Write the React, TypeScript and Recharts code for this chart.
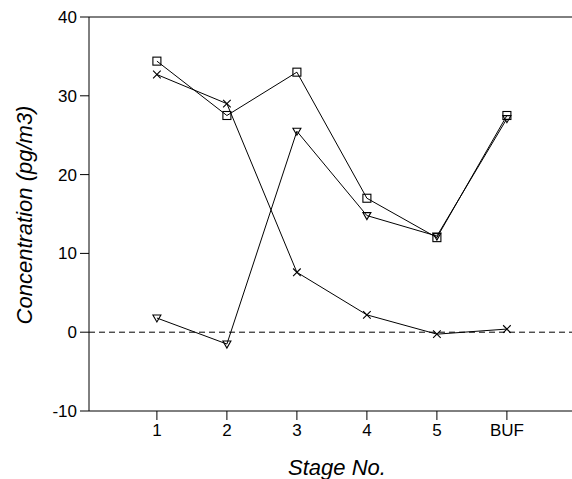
import { LineChart, Line, XAxis, YAxis, ReferenceLine } from "recharts";

const stages = ["1", "2", "3", "4", "5", "BUF"];
const squareSeries = [34.4, 27.5, 33.0, 17.0, 12.0, 27.5];
const crossSeries = [32.7, 29.0, 7.6, 2.2, -0.25, 0.4];
const triangleSeries = [1.8, -1.5, 25.5, 14.8, 12.2, 27.1];
const yTicks = [-10, 0, 10, 20, 30, 40];

const data = stages.map((s, i) => ({
  x: i + 1,
  stage: s,
  square: squareSeries[i],
  cross: crossSeries[i],
  triangle: triangleSeries[i],
}));

const font = "'Liberation Sans', Arial, Helvetica, sans-serif";

const SquareDot = (props: any) => {
  const { cx, cy, index } = props;
  if (cx == null || cy == null) return <g key={`s${index}`} />;
  return (
    <rect key={`s${index}`} x={cx - 4} y={cy - 4} width={8} height={8} fill="none" stroke="#000" strokeWidth={1.1} />
  );
};

const CrossDot = (props: any) => {
  const { cx, cy, index } = props;
  if (cx == null || cy == null) return <g key={`c${index}`} />;
  const r = 3.8;
  return (
    <path
      key={`c${index}`}
      d={`M${cx - r},${cy - r}L${cx + r},${cy + r}M${cx - r},${cy + r}L${cx + r},${cy - r}`}
      stroke="#000"
      strokeWidth={1.1}
      fill="none"
    />
  );
};

const TriangleDot = (props: any) => {
  const { cx, cy, index } = props;
  if (cx == null || cy == null) return <g key={`t${index}`} />;
  return (
    <path
      key={`t${index}`}
      d={`M${cx - 4},${cy - 3}L${cx + 4},${cy - 3}L${cx},${cy + 4}Z`}
      stroke="#000"
      strokeWidth={1.1}
      fill="none"
    />
  );
};

export default function App() {
  return (
    <div style={{ position: "absolute", left: 0, top: 0, width: 572, height: 479, overflow: "hidden", background: "#fff" }}>
      <LineChart width={580} height={479} data={data} margin={{ top: 17, right: 1, left: 0, bottom: 0 }}>
        <XAxis
          dataKey="x"
          type="number"
          domain={[0.03, 7.03]}
          ticks={[1, 2, 3, 4, 5, 6]}
          tickFormatter={(v: number) => stages[v - 1] ?? ""}
          height={68}
          tickSize={9}
          tickMargin={4}
          stroke="#000"
          tick={{ fill: "#000", fontSize: 17, fontFamily: font }}
          label={{
            content: () => (
              <text x={337} y={475} textAnchor="middle" fontSize={22} fontStyle="italic" fontFamily={font} fill="#000">
                Stage No.
              </text>
            ),
          }}
        />
        <YAxis
          type="number"
          domain={[-10, 40]}
          ticks={yTicks}
          width={89}
          tickSize={9}
          tickMargin={3}
          stroke="#000"
          tick={{ fill: "#000", fontSize: 17, fontFamily: font }}
          label={{
            content: () => (
              <text
                x={32}
                y={215}
                transform="rotate(-90, 32, 215)"
                textAnchor="middle"
                fontSize={22}
                fontStyle="italic"
                fontFamily={font}
                fill="#000"
              >
                Concentration (pg/m3)
              </text>
            ),
          }}
        />
        <ReferenceLine y={40} stroke="#000" strokeWidth={1} />
        <ReferenceLine y={0} stroke="#000" strokeWidth={1} strokeDasharray="6 4" />
        <Line dataKey="square" stroke="#000" strokeWidth={1} dot={SquareDot} activeDot={false} isAnimationActive={false} />
        <Line dataKey="cross" stroke="#000" strokeWidth={1} dot={CrossDot} activeDot={false} isAnimationActive={false} />
        <Line dataKey="triangle" stroke="#000" strokeWidth={1} dot={TriangleDot} activeDot={false} isAnimationActive={false} />
      </LineChart>
    </div>
  );
}
